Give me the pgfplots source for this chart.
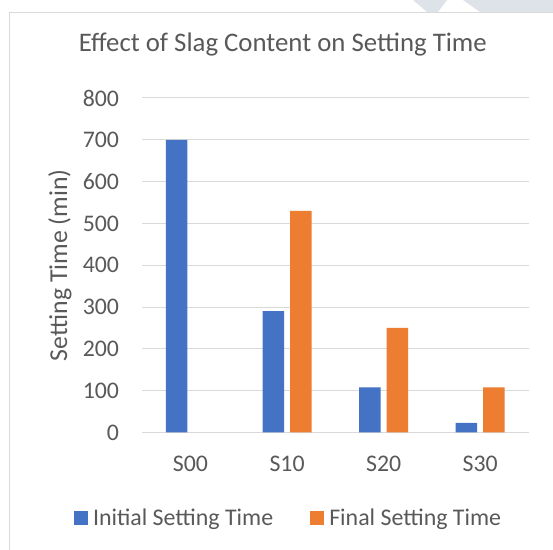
\documentclass[border=0pt]{standalone}
\usepackage{fontspec}
\setmainfont{Carlito}
\usepackage{pgfplots}
\pgfplotsset{compat=1.18}
\definecolor{txt}{HTML}{595959}
\definecolor{grd}{HTML}{D9D9D9}
\definecolor{cblue}{HTML}{4472C4}
\definecolor{corange}{HTML}{ED7D31}
\definecolor{wm}{HTML}{DDE3E8}
\begin{document}
\begin{tikzpicture}
\useasboundingbox (0,0) rectangle (553bp,550bp);
\clip (0,0) rectangle (553bp,550bp);
\fill[white] (0,0) rectangle (553bp,550bp);
\fill[wm] (413bp,550bp) -- (447bp,550bp) -- (438bp,538bp) -- (427bp,538bp) -- cycle;
\fill[wm] (463bp,550bp) -- (553bp,550bp) -- (553bp,538bp) -- (480bp,538bp) -- cycle;
\filldraw[fill=white, draw=grd, line width=1bp] (9bp,537.7bp) rectangle (570bp,-20bp);
\begin{axis}[
  at={(142.2bp,117.5bp)}, anchor=south west,
  scale only axis, width=386.3bp, height=334.5bp,
  ymin=0, ymax=800, ytick={0,100,...,800},
  xmin=-0.5, xmax=3.5, xtick={0,1,2,3}, xticklabels={S00,S10,S20,S30},
  ybar=6bp, bar width=21.5bp,
  axis line style={draw=none},
  ymajorgrids, major grid style={grd, line width=1bp},
  tick style={draw=none}, major tick length=0pt,
  /pgf/number format/assume math mode=true,
  tick label style={font=\fontsize{23.8bp}{28bp}\selectfont, text=txt, inner sep=0pt},
  yticklabel style={anchor=east, xshift=-23bp},
  xticklabel style={anchor=north, yshift=-23.4bp},
  title={Effect of Slag Content on Setting Time},
  title style={at={(rel axis cs:0.3642,1.1217)}, anchor=base, font=\fontsize{26.8bp}{31bp}\selectfont, text=txt, inner sep=0pt},
  ylabel={Setting Time (min)},
  every axis y label/.style={at={(rel axis cs:-0.2128,0.5)}, rotate=90, anchor=center, font=\fontsize{25.8bp}{30bp}\selectfont, text=txt, inner sep=0pt},
  legend columns=2,
  legend style={at={(rel axis cs:0.3764,-0.2566)}, anchor=center, draw=none, fill=none, inner sep=0pt,
    font=\fontsize{23.9bp}{28bp}\selectfont, text=txt, nodes={inner sep=0pt},
    /tikz/every odd column/.append style={column sep=5bp},
    /tikz/every even column/.append style={column sep=37bp}},
  legend image code/.code={\fill[#1] (0bp,-7bp) rectangle (14bp,7bp);},
]
\addplot[fill=cblue, draw=none] coordinates {(0,700) (1,290) (2,108) (3,23)};
\addplot[fill=corange, draw=none] coordinates {(1,530) (2,250) (3,108)};
\legend{Initial Setting Time, Final Setting Time}
\end{axis}
\end{tikzpicture}
\end{document}
